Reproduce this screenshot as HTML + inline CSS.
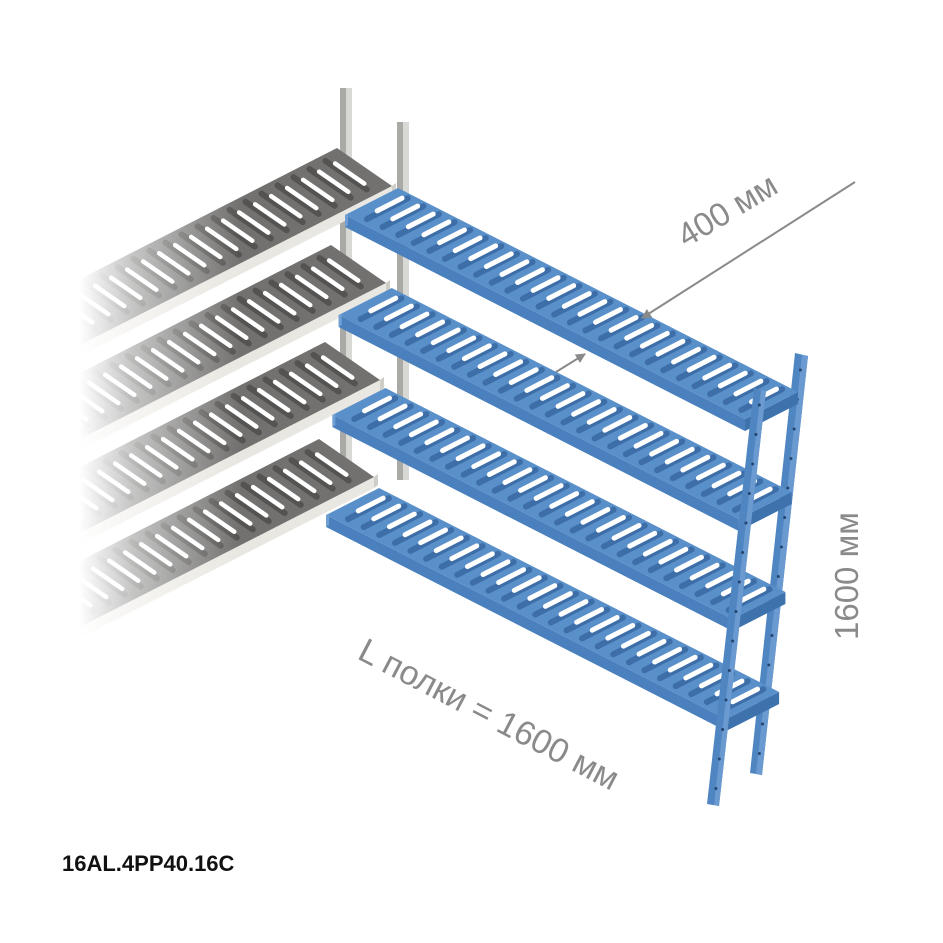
<!DOCTYPE html>
<html><head><meta charset="utf-8"><style>
html,body{margin:0;padding:0;background:#fff}
svg{display:block}
text{font-family:"Liberation Sans",sans-serif}
</style></head><body>
<svg id="s" width="943" height="943" viewBox="0 0 943 943" xmlns="http://www.w3.org/2000/svg">
<defs>
<linearGradient id="fade" x1="0" y1="0" x2="1" y2="0">
<stop offset="0" stop-color="#fff" stop-opacity="1"/>
<stop offset="0.33" stop-color="#fff" stop-opacity="1"/>
<stop offset="0.55" stop-color="#fff" stop-opacity="0.6"/>
<stop offset="1" stop-color="#fff" stop-opacity="0"/>
</linearGradient>
<marker id="ah" markerWidth="10" markerHeight="10" refX="9" refY="5" orient="auto" markerUnits="userSpaceOnUse">
<path d="M0,0 L10,5 L0,10 z" fill="#8a8a8a"/></marker>
</defs>
<g id="grey"></g>
<rect x="0" y="140" width="240" height="580" fill="url(#fade)"/>
<g id="blue"></g>
<line x1="855" y1="182" x2="642" y2="318" stroke="#8a8a8a" stroke-width="2" marker-end="url(#ah)"/>
<line x1="556" y1="372" x2="585" y2="354" stroke="#8a8a8a" stroke-width="2" marker-end="url(#ah)"/>
<text x="0" y="0" font-size="33" fill="#8a8a8a" transform="translate(686,248) rotate(-31)">400 мм</text>
<text x="0" y="0" font-size="33" fill="#8a8a8a" transform="translate(858,640) rotate(-90)">1600 мм</text>
<text x="0" y="0" font-size="34" fill="#8a8a8a" transform="translate(356,658) rotate(27.5)">L полки = 1600 мм</text>
<text x="62" y="871" font-size="22" font-weight="bold" fill="#111">16AL.4PP40.16C</text>
</svg>
<script>
var NS="http://www.w3.org/2000/svg";
function el(p,t,a){var e=document.createElementNS(NS,t);for(var k in a)e.setAttribute(k,a[k]);p.appendChild(e);return e;}
function pts(a){return a.map(function(p){return p[0].toFixed(1)+","+p[1].toFixed(1)}).join(" ");}
var G=document.getElementById("grey"),B=document.getElementById("blue");
el(G,"polygon",{points:pts([[340,88],[352,88],[352,470],[340,470]]),fill:"#a9a9a6"});
el(G,"rect",{x:346,y:88,width:6,height:382,fill:"#d8d8d4"});
el(G,"polygon",{points:pts([[397,122],[409,122],[409,480],[397,480]]),fill:"#a9a9a6"});
el(G,"rect",{x:403,y:122,width:6,height:358,fill:"#d8d8d4"});
for(var i=0;i<4;i++){
 var br=[337-6*i,148+97*i], fr=[392-6*i,186+97*i], L=330, d=[-1,0.51];
 var bl=[br[0]+L*d[0],br[1]+L*d[1]], fl=[fr[0]+L*d[0],fr[1]+L*d[1]];
 el(G,"polygon",{points:pts([fr,fl,[fl[0],fl[1]+11],[fr[0],fr[1]+11]]),fill:"#e9e7e1"});
 el(G,"polygon",{points:pts([br,fr,fl,bl]),fill:"#727170"});
 el(G,"polygon",{points:pts([fr,[fr[0]+4,fr[1]-3],[fr[0]+4,fr[1]+8],[fr[0],fr[1]+11]]),fill:"#cfcdc7"});
 for(var t=14;t<L-5;t+=16){
  var sx=br[0]+t*d[0],sy=br[1]+t*d[1],dx=fr[0]-br[0],dy=fr[1]-br[1];
  el(G,"line",{x1:sx+dx*0.1-3,y1:sy+dy*0.1+2,x2:sx+dx*0.85-3,y2:sy+dy*0.85+2,stroke:"#545351","stroke-width":6,"stroke-linecap":"round"});
  el(G,"line",{x1:sx+dx*0.22,y1:sy+dy*0.22,x2:sx+dx*0.75,y2:sy+dy*0.75,stroke:"#fff","stroke-width":4.5,"stroke-linecap":"round"});
 }
}
el(B,"polygon",{points:pts([[795,353],[808,356],[762,775],[750,773]]),fill:"#4f86c2"});
el(B,"polygon",{points:pts([[802,355],[808,356],[762,775],[756,774]]),fill:"#6a9ad0"});
for(var k=0;k<14;k++){var y=370+k*29.5;var x=800-(y-355)*0.107;el(B,"circle",{cx:x+2,cy:y,r:1.5,fill:"#24456e"});}
for(var i=0;i<4;i++){
 var fl=[345-6.3*i,215+100*i], dep=[53,-27], d=[1,0.51], L=400;
 var bl=[fl[0]+dep[0],fl[1]+dep[1]], fr=[fl[0]+L,fl[1]+L*d[1]], br=[bl[0]+L,bl[1]+L*d[1]];
 el(B,"polygon",{points:pts([br,fr,[fr[0],fr[1]+12],[br[0],br[1]+12]]),fill:"#3e72ad"});
 el(B,"polygon",{points:pts([fl,fr,[fr[0],fr[1]+12],[fl[0],fl[1]+12]]),fill:"#4a80bd"});
 el(B,"polygon",{points:pts([bl,fl,fr,br]),fill:"#5a90c9"});
 el(B,"polygon",{points:pts([fl,[fl[0]+3,fl[1]-1.5],[fl[0]+3,fl[1]+10],[fl[0],fl[1]+12]]),fill:"#6f9fd4"});
 for(var t=12;t<L-8;t+=15.6){
  var sx=bl[0]+t,sy=bl[1]+t*d[1];
  el(B,"line",{x1:sx-dep[0]*0.08+2,y1:sy-dep[1]*0.08+2,x2:sx-dep[0]*0.85+2,y2:sy-dep[1]*0.85+2,stroke:"#3d6ea8","stroke-width":6,"stroke-linecap":"round"});
  el(B,"line",{x1:sx-dep[0]*0.15,y1:sy-dep[1]*0.15,x2:sx-dep[0]*0.62,y2:sy-dep[1]*0.62,stroke:"#fff","stroke-width":5,"stroke-linecap":"round"});
 }
}
el(B,"polygon",{points:pts([[754,388],[766,391],[719,806],[707,804]]),fill:"#4f86c2"});
el(B,"polygon",{points:pts([[761,390],[766,391],[719,806],[714,805]]),fill:"#6a9ad0"});
for(var k=0;k<14;k++){var y=405+k*29.5;var x=760-(y-390)*0.113;el(B,"circle",{cx:x+1,cy:y,r:1.5,fill:"#24456e"});}
</script>
</body></html>
